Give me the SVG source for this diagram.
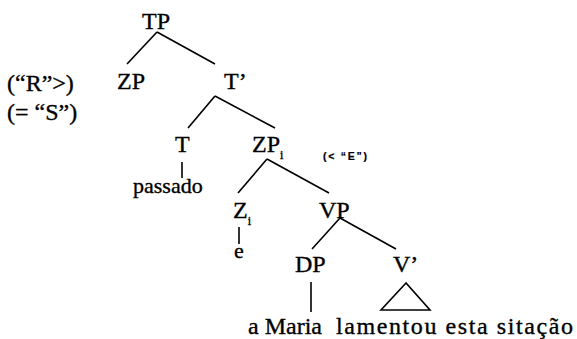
<svg xmlns="http://www.w3.org/2000/svg" width="577" height="339" viewBox="0 0 577 339">
<style>
text{font-family:"Liberation Serif","Times New Roman",serif;font-size:24px;fill:#000;stroke:#000;stroke-width:0.35}
.w{font-size:22px}
.sub{font-size:12px}
.small{font-family:"Liberation Sans",Arial,sans-serif;font-size:10.5px;font-weight:bold;stroke-width:0.2}
#edges line,#edges polygon{stroke:#000;stroke-width:1.6;fill:none}
</style>
<rect width="577" height="339" fill="#fff"/>
<g id="edges">
<line x1="157" y1="32" x2="127" y2="64"/>
<line x1="157" y1="32" x2="215" y2="64"/>
<line x1="215" y1="96" x2="188" y2="128"/>
<line x1="215" y1="96" x2="275" y2="128"/>
<line x1="182" y1="162" x2="182" y2="178"/>
<line x1="267" y1="159" x2="238" y2="193"/>
<line x1="267" y1="159" x2="329" y2="193"/>
<line x1="239" y1="227" x2="239" y2="244"/>
<line x1="340" y1="218" x2="312" y2="249"/>
<line x1="340" y1="218" x2="396" y2="249"/>
<line x1="311" y1="282" x2="311" y2="312"/>
<polygon points="406,283 381,310 430,310"/>
</g>
<g id="TP"><text x="142" y="29">TP</text></g>
<g id="ZP"><text x="117" y="89">ZP</text></g>
<g id="Tbar"><text x="224" y="89">T’</text></g>
<g id="R"><text x="7" y="91">(“R”&gt;)</text></g>
<g id="S"><text x="7" y="120">(= “S”)</text></g>
<g id="T"><text x="175" y="152">T</text></g>
<g id="ZPi"><text x="252" y="152">ZP<tspan class="sub" dy="7">i</tspan></text></g>
<g id="E"><text class="small" x="323" y="160" textLength="44" lengthAdjust="spacing">(&lt; “E”)</text></g>
<g id="passado"><text class="w" x="133" y="193">passado</text></g>
<g id="Zi"><text x="233" y="218">Z<tspan class="sub" dy="7">i</tspan></text></g>
<g id="VP"><text x="319" y="218">VP</text></g>
<g id="e"><text class="w" x="234" y="258">e</text></g>
<g id="DP"><text x="295" y="272">DP</text></g>
<g id="Vbar"><text x="393" y="272">V’</text></g>
<g id="aMaria"><text x="248" y="334" textLength="74" lengthAdjust="spacing">a Maria</text></g>
<g id="lamentou"><text x="336" y="334" textLength="237" lengthAdjust="spacing">lamentou esta sitação</text></g>
</svg>
